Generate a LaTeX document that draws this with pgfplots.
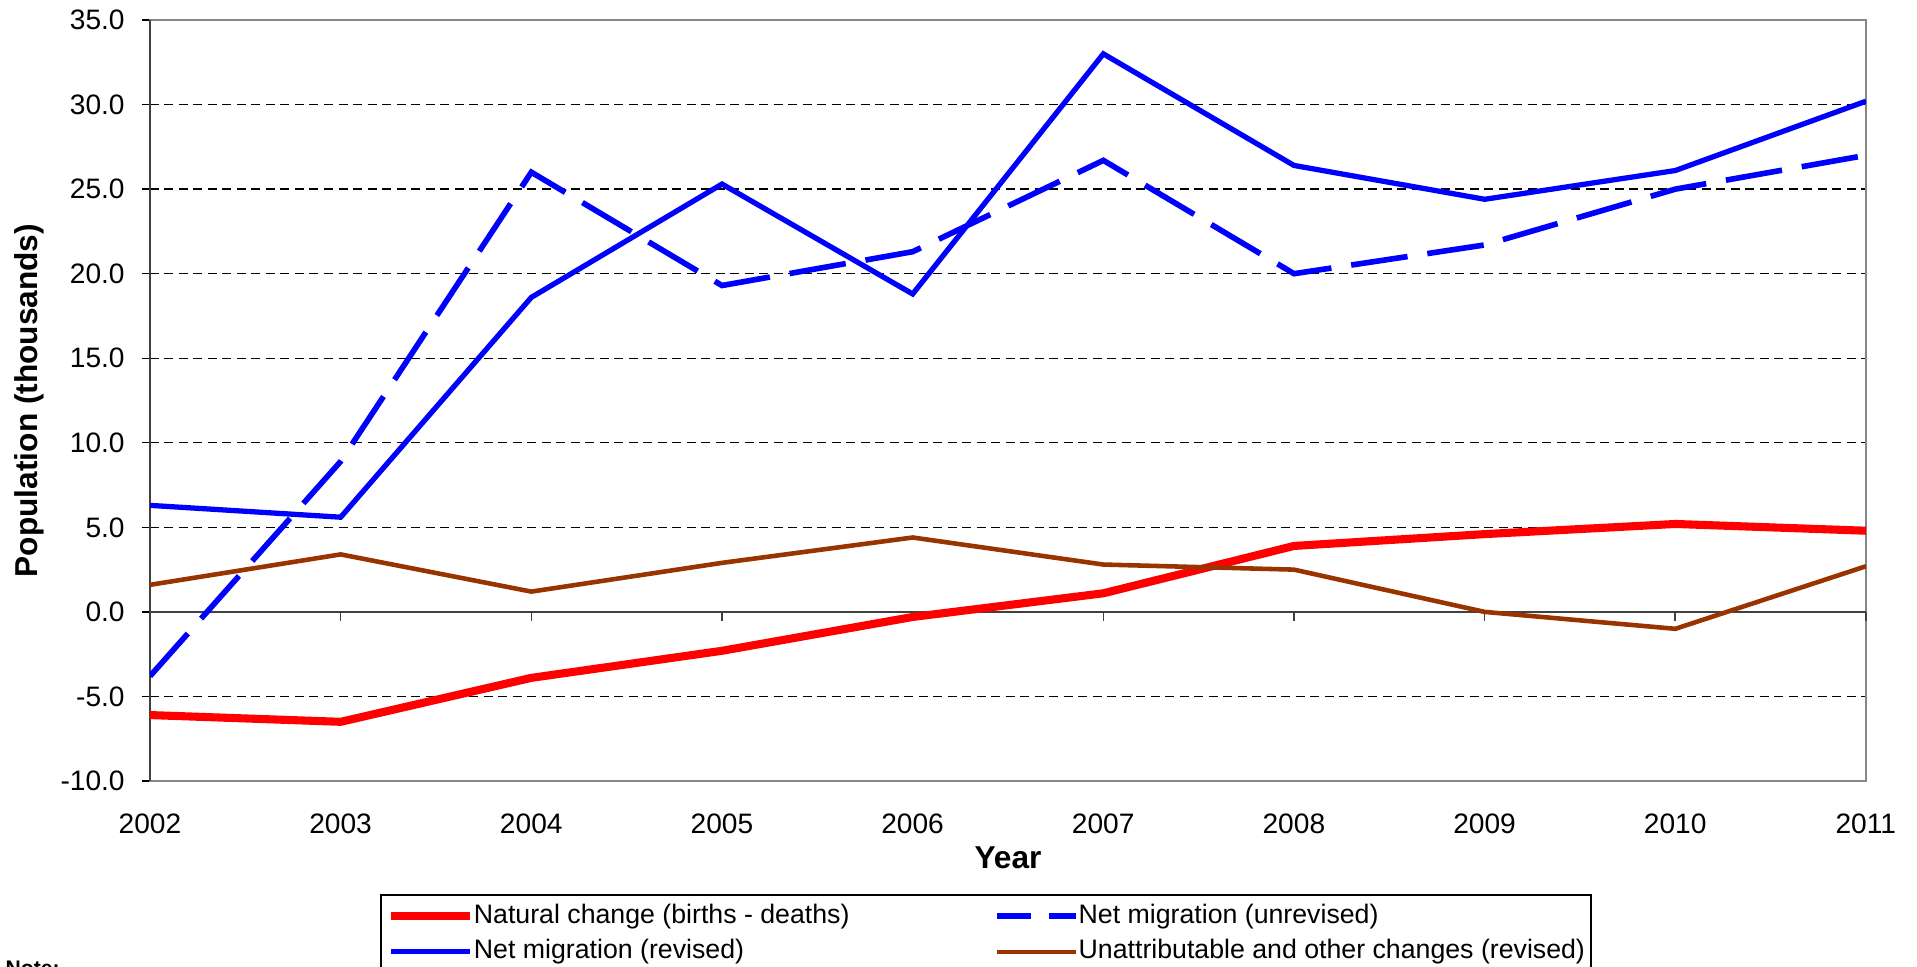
\documentclass[border=0pt]{standalone}
\usepackage{pgfplots}
\pgfplotsset{compat=1.18}
\usepackage{fontspec}
\setmainfont{Liberation Sans}
\definecolor{brn}{HTML}{993300}
\definecolor{framegray}{HTML}{868686}
\definecolor{axdark}{HTML}{404040}
\begin{document}
\begin{tikzpicture}[x=1mm,y=1mm]
\path[use as bounding box] (0,0) rectangle (191.7,96.6);
\pgfplotsset{common/.style={at={(15mm,18.5mm)}, anchor=south west,
  width=171.6mm, height=76.1mm, scale only axis,
  xmin=2002, xmax=2011, ymin=-10, ymax=35,
  /pgf/number format/assume math mode=true}}
% Frame, grid, tick labels
\begin{axis}[common,
  axis line style={framegray, line width=0.7pt},
  xtick={2002,...,2011},
  xticklabel style={/pgf/number format/1000 sep={}, font=\fontsize{8}{9.6}\selectfont, yshift=-2.0mm},
  x tick style={draw=none},
  ytick={-10,-5,...,35},
  y tick label style={/pgf/number format/fixed, /pgf/number format/fixed zerofill, /pgf/number format/precision=1, font=\fontsize{8}{9.6}\selectfont, xshift=-0.5mm},
  ytick align=outside, ytick pos=left,
  major tick length=0.8mm,
  y tick style={black, line width=0.4pt},
  ymajorgrids,
  major grid style={black, line width=0.4pt, dash pattern=on 0.9mm off 0.55mm},
  xlabel={Year}, ylabel={Population (thousands)},
  xlabel style={font=\bfseries\fontsize{9}{10.8}\selectfont, at={(axis description cs:0.5,-0.1015)}, anchor=center},
  ylabel style={font=\bfseries\fontsize{9}{10.8}\selectfont, at={(axis description cs:-0.0705,0.5)}, anchor=center},
]
\end{axis}
% Zero line, left axis, data, legend
\begin{axis}[common,
  axis x line*=middle, axis y line*=left,
  axis line style={axdark, line width=0.7pt},
  xtick={2002,...,2011}, xticklabels={}, minor x tick num=4,
  xtick align=outside,
  major tick length=0.9mm, minor tick length=0.7mm,
  x tick style={axdark, line width=0.4pt},
  ytick=\empty,
  legend columns=2,
  legend cell align=left,
  legend style={at={(0.134,-0.1485)}, anchor=north west, draw=black, line width=0.5pt,
    font=\fontsize{7.6}{9}\selectfont, inner xsep=0.6mm, inner ysep=0.6mm,
    row sep=0.5mm, column sep=0mm,
    /tikz/every even column/.append style={column sep=14.45mm},
    nodes={inner ysep=0.3mm, inner xsep=0mm}},
  legend image code/.code={\draw[#1] (0mm,0mm) -- (7.9mm,0mm);},
]
\addplot[red, line width=2.3pt] coordinates {
(2002,-6.1) (2003,-6.5) (2004,-3.9) (2005,-2.3) (2006,-0.3)
(2007,1.1) (2008,3.9) (2009,4.6) (2010,5.2) (2011,4.8)};
\addlegendentry{Natural change (births - deaths)}
\addplot[blue, line width=1.6pt, dash pattern=on 5.7mm off 2mm,
  /pgfplots/legend image code/.code={\draw[blue, line width=1.6pt, dash pattern=on 3.4mm off 1.8mm] (0mm,0mm) -- (7.9mm,0mm);}] coordinates {
(2002,-3.8) (2003,8.9) (2004,26.0) (2005,19.3) (2006,21.3)
(2007,26.7) (2008,20.0) (2009,21.7) (2010,25.0) (2011,27.0)};
\addlegendentry{Net migration (unrevised)}
\addplot[blue, line width=1.5pt] coordinates {
(2002,6.3) (2003,5.6) (2004,18.6) (2005,25.3) (2006,18.8)
(2007,33.0) (2008,26.4) (2009,24.4) (2010,26.1) (2011,30.2)};
\addlegendentry{Net migration (revised)}
\addplot[brn, line width=1.3pt] coordinates {
(2002,1.6) (2003,3.4) (2004,1.2) (2005,2.9) (2006,4.4)
(2007,2.8) (2008,2.5) (2009,0.0) (2010,-1.0) (2011,2.7)};
\addlegendentry{Unattributable and other changes (revised)}
\end{axis}
\node[anchor=north west, font=\bfseries\fontsize{6}{7}\selectfont, inner sep=0pt] at (0.5,0.6) {Note:};
\end{tikzpicture}
\end{document}
